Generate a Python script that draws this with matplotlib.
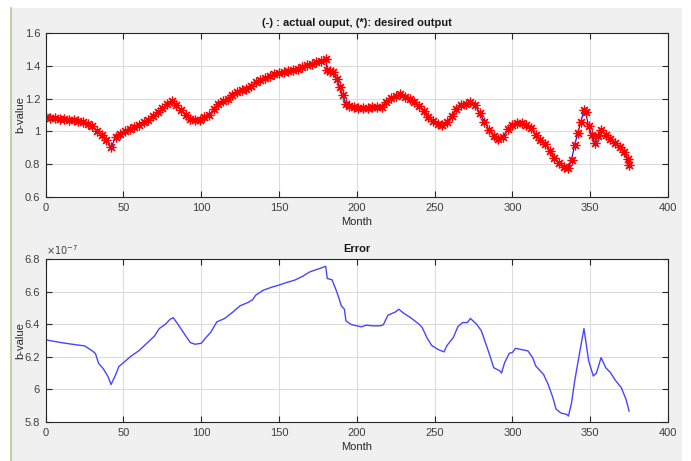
import matplotlib
matplotlib.use("Agg")
import matplotlib.pyplot as plt
from matplotlib.ticker import FuncFormatter
from matplotlib.patches import Rectangle
from matplotlib.lines import Line2D

# desired / actual b-value (top panel)
months_top = [0, 3, 6, 9, 12, 15, 18, 21, 24, 27, 30, 33, 36, 39, 42, 45, 48, 51, 54, 57,
              60, 63, 66, 69, 72, 75, 78, 81, 84, 87, 90, 93, 96, 99, 102, 105, 108, 111, 114, 117,
              120, 123, 126, 129, 132, 135, 138, 141, 144, 147, 150, 153, 156, 159, 162, 165, 168, 171, 174, 177,
              180, 181, 183, 185, 187, 189, 191, 193, 195, 198, 201, 204, 207, 210, 213, 216, 219, 222, 225, 228,
              231, 234, 237, 240, 243, 246, 249, 252, 255, 258, 261, 264, 267, 270, 273, 276, 279, 282, 285, 288,
              291, 294, 297, 300, 303, 306, 309, 312, 315, 318, 321, 324, 327, 330, 333, 336, 338, 340, 342, 344,
              346, 347, 349, 351, 353, 355, 357, 360, 363, 366, 369, 372, 374, 375]
b_top = [1.086, 1.083, 1.080, 1.077, 1.074, 1.071, 1.068, 1.065, 1.059, 1.048, 1.03, 1.005, 0.975, 0.95, 0.905, 0.963, 0.985, 1.0, 1.015, 1.028,
         1.04, 1.055, 1.07, 1.093, 1.118, 1.14, 1.165, 1.185, 1.163, 1.13, 1.10, 1.078, 1.07, 1.07, 1.085, 1.10, 1.135, 1.165, 1.185, 1.20,
         1.22, 1.24, 1.252, 1.258, 1.275, 1.30, 1.313, 1.324, 1.336, 1.347, 1.355, 1.36, 1.367, 1.372, 1.382, 1.394, 1.404, 1.413, 1.422, 1.43,
         1.44, 1.375, 1.37, 1.36, 1.32, 1.27, 1.22, 1.17, 1.155, 1.148, 1.143, 1.143, 1.145, 1.147, 1.147, 1.15, 1.18, 1.205, 1.215, 1.228,
         1.212, 1.195, 1.18, 1.157, 1.125, 1.09, 1.065, 1.048, 1.037, 1.06, 1.095, 1.135, 1.16, 1.17, 1.18, 1.16, 1.11, 1.06, 1.01, 0.97,
         0.953, 0.965, 1.015, 1.037, 1.05, 1.05, 1.04, 1.02, 0.975, 0.95, 0.925, 0.88, 0.84, 0.806, 0.785, 0.775, 0.826, 0.918, 0.99, 1.06,
         1.13, 1.12, 1.03, 0.98, 0.93, 0.97, 1.01, 0.98, 0.955, 0.93, 0.905, 0.875, 0.83, 0.796]

# error (bottom panel), in units of 1e-7
months_err = [0, 10, 20, 25, 30, 32, 34, 37, 40, 42, 45, 47, 50, 55, 60, 65, 70, 73, 77, 80,
              82, 85, 90, 93, 96, 100, 103, 106, 110, 115, 120, 125, 130, 133, 135, 140, 145, 150, 155, 160,
              165, 170, 175, 180, 181, 184, 186, 188, 190, 192, 193, 196, 198, 200, 203, 206, 210, 215, 217, 220,
              225, 227, 230, 235, 240, 242, 245, 248, 252, 256, 258, 262, 265, 268, 271, 273, 277, 280, 285, 288,
              292, 293, 295, 298, 300, 302, 305, 310, 313, 315, 320, 323, 326, 328, 331, 335, 336, 338, 340, 343,
              346, 349, 352, 354, 357, 360, 363, 366, 370, 373, 375]
err = [6.304, 6.287, 6.273, 6.267, 6.236, 6.22, 6.16, 6.127, 6.08, 6.03, 6.09, 6.14, 6.164, 6.205, 6.238, 6.283, 6.328, 6.373, 6.40, 6.43,
       6.44, 6.40, 6.328, 6.287, 6.277, 6.283, 6.318, 6.349, 6.414, 6.435, 6.472, 6.513, 6.533, 6.55, 6.578, 6.609, 6.626, 6.64, 6.656, 6.67,
       6.693, 6.722, 6.738, 6.755, 6.68, 6.673, 6.626, 6.574, 6.513, 6.492, 6.42, 6.40, 6.394, 6.39, 6.384, 6.394, 6.39, 6.39, 6.396, 6.455,
       6.476, 6.492, 6.468, 6.437, 6.40, 6.38, 6.318, 6.271, 6.246, 6.23, 6.27, 6.318, 6.386, 6.41, 6.41, 6.435, 6.40, 6.36, 6.222, 6.133,
       6.113, 6.10, 6.164, 6.222, 6.226, 6.252, 6.246, 6.236, 6.195, 6.144, 6.092, 6.03, 5.95, 5.88, 5.856, 5.846, 5.836, 5.918, 6.05, 6.215,
       6.373, 6.175, 6.082, 6.10, 6.195, 6.133, 6.103, 6.058, 6.01, 5.94, 5.867]
err_scale = 1e-7

x_ticks = [0, 50, 100, 150, 200, 250, 300, 350, 400]
top_yticks = [0.6, 0.8, 1, 1.2, 1.4, 1.6]
err_yticks = [5.8, 6, 6.2, 6.4, 6.6, 6.8]

font = ['Liberation Sans Narrow', 'Liberation Sans', 'DejaVu Sans']
plt.rcParams['font.family'] = font

fig = plt.figure(figsize=(6.91, 4.61), dpi=100, facecolor='white')
fig.patches.append(Rectangle((11 / 691, 0), (682 - 11) / 691, 1 - 8 / 461,
                             transform=fig.transFigure, facecolor='#f0f0f0', edgecolor='none', zorder=-10))
fig.lines.append(Line2D([11 / 691, 11 / 691], [0, 1 - 8 / 461], transform=fig.transFigure,
                        color='#b8c99a', lw=1.2))

ax1 = fig.add_axes([0.0661, 0.5727, 0.9006, 0.3557])
ax2 = fig.add_axes([0.0661, 0.0846, 0.9006, 0.3536])

def style(ax):
    ax.set_facecolor('white')
    ax.grid(True, color='#dcdcdc', lw=0.8)
    ax.set_axisbelow(True)
    ax.tick_params(direction='in', length=4, width=0.8, top=True, right=True,
                   labelsize=8, colors='#262626', labelcolor='#404040', pad=4)
    for s in ax.spines.values():
        s.set_color('#262626')
        s.set_linewidth(0.8)
    ax.set_xlim(0, 400)
    ax.set_xticks(x_ticks)
    ax.set_xlabel('Month', fontsize=8, color='#262626', labelpad=3)
    ax.set_ylabel('b-value', fontsize=8, color='#262626')
    ax.yaxis.set_label_coords(-0.032, 0.5)

style(ax1)
ax1.plot(months_top, b_top, color='blue', lw=0.8)
ax1.plot(months_top, b_top, ls='none', marker=(8, 2, 0), ms=7, mew=0.9, color='red', mec='red')
ax1.set_ylim(0.6, 1.6)
ax1.set_yticks(top_yticks)
ax1.yaxis.set_major_formatter(FuncFormatter(lambda v, p: f'{v:g}'))
ax1.set_title('(-) : actual ouput, (*): desired output', fontsize=8, fontweight='bold',
              color='#1a1a1a', pad=5)

style(ax2)
ax2.plot(months_err, [e * err_scale for e in err], color='#4646ff', lw=1.0)
ax2.set_ylim(5.8 * err_scale, 6.8 * err_scale)
ax2.set_yticks([t * err_scale for t in err_yticks])
ax2.yaxis.set_major_formatter(FuncFormatter(lambda v, p: f'{v / err_scale:g}'))
ax2.set_title('Error', fontsize=8, fontweight='bold', color='#1a1a1a', pad=5)
ax2.text(0.0, 1.01, r'$\times10^{-7}$', transform=ax2.transAxes, fontsize=7,
         color='#404040', ha='left', va='bottom')

fig.savefig('out.png', dpi=100, facecolor=fig.get_facecolor())
